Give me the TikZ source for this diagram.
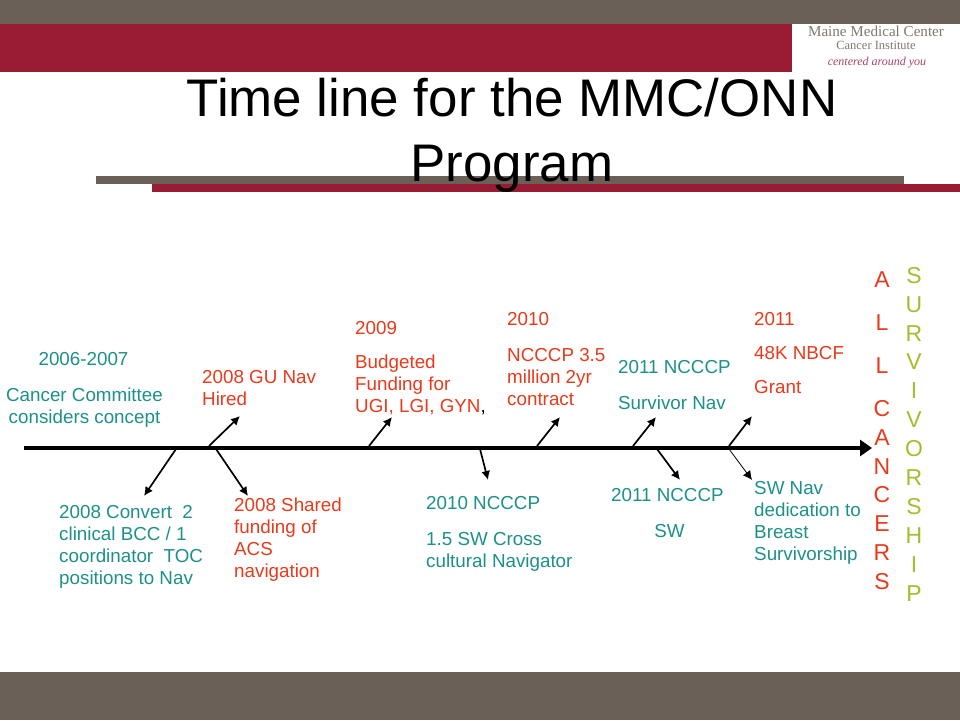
\documentclass[tikz,border=0pt]{standalone}
\usepackage{fontspec}
\setmainfont{Liberation Sans}
\newfontfamily\logofont{Liberation Serif}
\usetikzlibrary{arrows.meta}
\definecolor{tealtxt}{HTML}{1C9189}
\definecolor{redtxt}{HTML}{E93A1C}
\definecolor{greentxt}{HTML}{A3BE2C}
\definecolor{maroonband}{HTML}{9A1C34}
\definecolor{greyband}{HTML}{6B6058}
\definecolor{logogrey}{HTML}{7F7870}
\definecolor{logored}{HTML}{A8446A}
\tikzset{
  x=1pt,y=-1pt,
  lab/.style={anchor=north west,inner sep=0pt,align=left,font=\fontsize{18.8}{22}\selectfont},
  teal lab/.style={lab,text=tealtxt},
  red lab/.style={lab,text=redtxt},
  stacked/.style={anchor=north,inner sep=0pt,align=center,font=\fontsize{23}{28.9}\selectfont},
  spine/.style={line width=4.5pt,-{Triangle[length=12pt,width=16pt]}},
  branch/.style={line width=1.7pt,black,-{Latex[length=9pt,width=9pt]}},
  thinbranch/.style={line width=0.8pt,black,-{Latex[length=9pt,width=9pt]}},
  logotext/.style={inner sep=0pt,anchor=center},
}
\begin{document}
\begin{tikzpicture}
\useasboundingbox (0,0) rectangle (960,720);
\fill[white] (0,0) rectangle (960,720);
\fill[greyband] (0,0) rectangle (960,24);
\fill[maroonband] (0,24) rectangle (792,72);
\fill[greyband] (0,672) rectangle (960,720);
\fill[greyband] (96,176) rectangle (904,184);
\fill[maroonband] (152,184) rectangle (960,192);
% logo
\node[logotext,text=logogrey,font=\logofont\fontsize{15.1}{18}\selectfont] (logoa) at (876,31) {Maine Medical Center};
\node[logotext,text=logogrey,font=\logofont\fontsize{12.5}{15}\selectfont] (logob) at (876,45) {Cancer Institute};
\node[logotext,text=logored,font=\logofont\itshape\fontsize{12}{14}\selectfont] (logoc) at (877,63) {centered around you};
% title
\node[inner sep=0pt,align=center,anchor=north,font=\fontsize{52.9}{65}\selectfont] (title) at (512,77.5) {Time line for the MMC/ONN\\Program};
% texts
\node[teal lab,align=center,anchor=north] (t1) at (84.5,352.5) {\hspace*{-2pt}2006-2007\\[14pt]Cancer Committee\\considers concept};
\node[teal lab] (t2) at (59,505.5) {2008 Convert\ \ 2\\clinical BCC / 1\\coordinator\ \ TOC\\positions to Nav};
\node[red lab] (t3) at (202,370.5) {2008 GU Nav\\Hired};
\node[red lab] (t4) at (234,497.5) {2008 Shared\\funding of\\ACS\\navigation};
\node[red lab] (t5) at (355,321.5) {2009\\[12pt]Budgeted\\Funding for\\UGI, LGI, GYN{\color{black},}};
\node[teal lab] (t6) at (426,496.5) {2010 NCCCP\\[14pt]1.5 SW Cross\\cultural Navigator};
\node[red lab] (t7) at (507,312.5) {2010\\[14pt]NCCCP 3.5\\million 2yr\\contract};
\node[teal lab] (t8) at (618,360) {2011 NCCCP\\[14pt]Survivor Nav};
\node[teal lab,align=center] (t9) at (611,488.5) {2011 NCCCP\\[14pt]\hspace*{4pt}SW};
\node[red lab] (t10) at (754,312.5) {2011\\[12pt]48K NBCF\\[12pt]Grant};
\node[teal lab] (t11) at (754,481.5) {SW Nav\\dedication to\\Breast\\Survivorship};
\node[stacked,text=redtxt] (allc) at (882,271.5) {A\\[14pt]L\\[14pt]L\\[14pt]C\\A\\N\\C\\E\\R\\S};
\node[stacked,text=greentxt] (surv) at (914,267) {S\\U\\R\\V\\I\\V\\O\\R\\S\\H\\I\\P};
% timeline
\coordinate (tstart) at (24,448);
\coordinate (tend) at (872,448);
\draw[spine] (tstart) -- (tend);
\foreach \nm/\ax/\ay/\bx/\by in {
 a/176/449/144/496,
 b/209/446/240/416,
 c/216/449/248/496,
 d/369/446/392/417,
 e/480/449/488/480,
 f/537/446/560/417,
 g/633/446/656/417,
 h/657/449/680/480,
 i/729/446/752/416}{
  \coordinate (\nm s) at (\ax,\ay);
  \coordinate (\nm e) at (\bx,\by);
  \draw[branch] (\nm s) -- (\nm e);
}
\coordinate (js) at (729,449);
\coordinate (je) at (752,480);
\draw[thinbranch] (js) -- (je);
\end{tikzpicture}
\end{document}
